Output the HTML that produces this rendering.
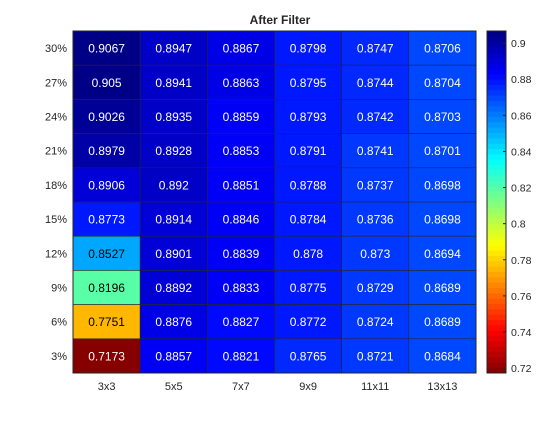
<!DOCTYPE html>
<html><head><meta charset="utf-8"><style>
body{margin:0;background:#fff;}
svg{font-family:"Liberation Sans",sans-serif;}
</style></head><body>
<svg id="c" width="560" height="420">
<text x="280" y="24" text-anchor="middle" font-size="12" font-weight="bold" fill="#262626">After Filter</text>
</svg>
<script>
const xLabels=["3x3","5x5","7x7","9x9","11x11","13x13"];
const yLabels=["30%","27%","24%","21%","18%","15%","12%","9%","6%","3%"];
const col3=[0.9067,0.905,0.9026,0.8979,0.8906,0.8773,0.8527,0.8196,0.7751,0.7173];
const col5=[0.8947,0.8941,0.8935,0.8928,0.892,0.8914,0.8901,0.8892,0.8876,0.8857];
const col7=[0.8867,0.8863,0.8859,0.8853,0.8851,0.8846,0.8839,0.8833,0.8827,0.8821];
const col9=[0.8798,0.8795,0.8793,0.8791,0.8788,0.8784,0.878,0.8775,0.8772,0.8765];
const col11=[0.8747,0.8744,0.8742,0.8741,0.8737,0.8736,0.873,0.8729,0.8724,0.8721];
const col13=[0.8706,0.8704,0.8703,0.8701,0.8698,0.8698,0.8694,0.8689,0.8689,0.8684];
const cbTicks=[0.72,0.74,0.76,0.78,0.8,0.82,0.84,0.86,0.88,0.9];
const cols=[col3,col5,col7,col9,col11,col13];
const NS="http://www.w3.org/2000/svg";
const svg=document.getElementById('c');
const L=73,R=476,T=31,B=373;
const all=cols.flat();const vmin=Math.min(...all),vmax=Math.max(...all);
const cw=(R-L)/xLabels.length,rh=(B-T)/yLabels.length;
function jet(x){const c=v=>Math.max(0,Math.min(1,v));return [c(1.5-Math.abs(4*x-3)),c(1.5-Math.abs(4*x-2)),c(1.5-Math.abs(4*x-1))];}
function cmap(v){let t=(v-vmin)/(vmax-vmin);t=Math.max(0,Math.min(1,t));let k=Math.min(63,Math.floor(t*64));return jet(1-(k+0.5)/64);}
function rgb(c){return `rgb(${Math.round(c[0]*255)},${Math.round(c[1]*255)},${Math.round(c[2]*255)})`;}
function mk(tag,a){const e=document.createElementNS(NS,tag);for(const k in a)e.setAttribute(k,a[k]);svg.appendChild(e);return e;}
cols.forEach((col,i)=>{col.forEach((v,j)=>{
 const c=cmap(v);
 const r=mk('rect',{x:L+i*cw,y:T+j*rh,width:cw,height:rh,fill:rgb(c),stroke:'#262626','stroke-width':0.6});
 
 
 const lum=0.299*c[0]+0.587*c[1]+0.114*c[2];
 const t=mk('text',{x:L+(i+0.5)*cw,y:T+(j+0.5)*rh+4.5,'text-anchor':'middle','font-size':12,fill:(lum>0.4&&c[0]+c[1]>0.5)?'#000':'#fff'});
 t.textContent=String(v);
 
 
});});
mk('rect',{x:L,y:T,width:R-L,height:B-T,fill:'none',stroke:'#262626','stroke-width':1});
xLabels.forEach((s,i)=>{const t=mk('text',{x:L+(i+0.5)*cw,y:B+17,'text-anchor':'middle','font-size':11,fill:'#262626'});t.textContent=s;

});
yLabels.forEach((s,j)=>{const t=mk('text',{x:L-6,y:T+(j+0.5)*rh+4,'text-anchor':'end','font-size':11,fill:'#262626'});t.textContent=s;

});
const CL=487,CR=506;
for(let k=0;k<64;k++){const y0=B-(k+1)*(B-T)/64;const r=mk('rect',{x:CL,y:y0,width:CR-CL,height:(B-T)/64+0.5,fill:rgb(jet(1-(k+0.5)/64))});

}
const cb=mk('rect',{x:CL,y:T,width:CR-CL,height:B-T,fill:'none',stroke:'#262626','stroke-width':1});


cbTicks.forEach(v=>{const y=B-(v-vmin)/(vmax-vmin)*(B-T);
 mk('line',{x1:CR-3,x2:CR,y1:y,y2:y,stroke:'#262626'});
 const t=mk('text',{x:CR+5,y:y+4,'font-size':10.5,fill:'#262626'});t.textContent=String(v);
 
 });
</script>
</body></html>
